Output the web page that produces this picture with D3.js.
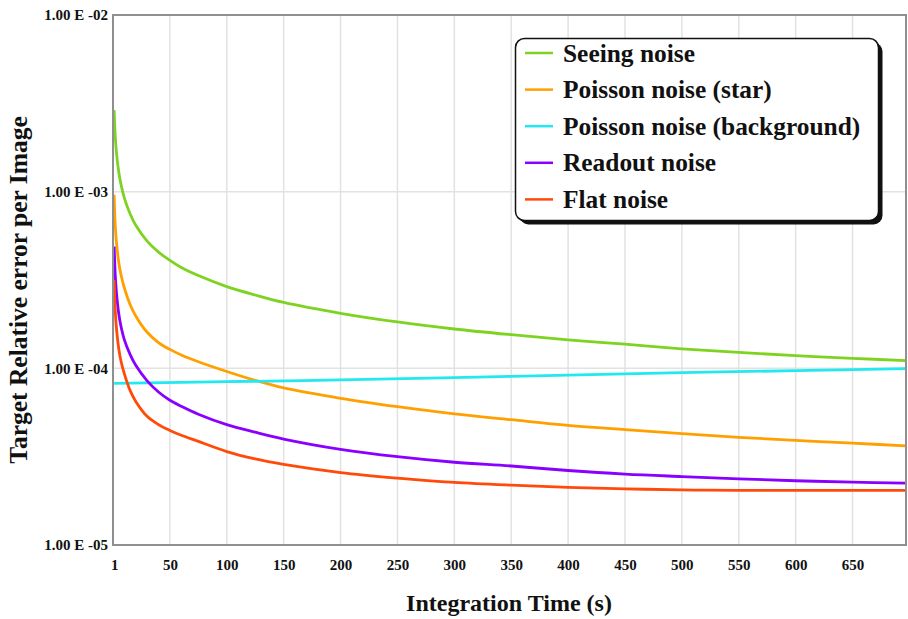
<!DOCTYPE html>
<html>
<head>
<meta charset="utf-8">
<script src="https://cdn.jsdelivr.net/npm/d3@7"></script>
<style>
  html, body { margin: 0; padding: 0; background: #fff; }
  svg { display: block; }
  .tick text { font-family: "Liberation Serif", "Times New Roman", serif; font-weight: bold; font-size: 15px; fill: #111; }
</style>
</head>
<body>
<svg id="chart" width="908" height="619"></svg>
<script>
// ---- data ----
const times = [1, 2, 3, 5, 7, 10, 15, 20, 30, 40, 50, 60, 75, 100, 125, 150, 200, 250, 300, 350, 400, 450, 500, 550, 600, 650, 697];
const seeingNoise = [2.9e-3, 2.05e-3, 1.68e-3, 1.3e-3, 1.1e-3, 9.2e-4, 7.5e-4, 6.45e-4, 5.25e-4, 4.55e-4, 4.08e-4, 3.72e-4, 3.35e-4, 2.9e-4, 2.6e-4, 2.36e-4, 2.05e-4, 1.83e-4, 1.67e-4, 1.55e-4, 1.45e-4, 1.37e-4, 1.29e-4, 1.23e-4, 1.18e-4, 1.14e-4, 1.105e-4];
const poissonStar = [9.6e-4, 6.4e-4, 5.2e-4, 4.0e-4, 3.4e-4, 2.85e-4, 2.3e-4, 1.98e-4, 1.6e-4, 1.4e-4, 1.28e-4, 1.19e-4, 1.09e-4, 9.6e-5, 8.55e-5, 7.75e-5, 6.77e-5, 6.07e-5, 5.52e-5, 5.12e-5, 4.76e-5, 4.5e-5, 4.27e-5, 4.07e-5, 3.91e-5, 3.77e-5, 3.64e-5];
const bgTimes = [1, 100, 200, 300, 400, 500, 600, 697];
const poissonBackground = [8.22e-5, 8.4e-5, 8.6e-5, 8.85e-5, 9.15e-5, 9.45e-5, 9.7e-5, 9.96e-5];
const readoutNoise = [4.89e-4, 3.35e-4, 2.7e-4, 2.05e-4, 1.73e-4, 1.45e-4, 1.2e-4, 1.04e-4, 8.5e-5, 7.35e-5, 6.6e-5, 6.1e-5, 5.5e-5, 4.8e-5, 4.35e-5, 3.98e-5, 3.48e-5, 3.16e-5, 2.94e-5, 2.8e-5, 2.64e-5, 2.52e-5, 2.44e-5, 2.37e-5, 2.31e-5, 2.27e-5, 2.24e-5];
const flatNoise = [3.16e-4, 2.1e-4, 1.7e-4, 1.3e-4, 1.1e-4, 9.3e-5, 7.5e-5, 6.5e-5, 5.35e-5, 4.8e-5, 4.45e-5, 4.18e-5, 3.86e-5, 3.38e-5, 3.07e-5, 2.86e-5, 2.57e-5, 2.39e-5, 2.26e-5, 2.18e-5, 2.12e-5, 2.08e-5, 2.05e-5, 2.04e-5, 2.04e-5, 2.04e-5, 2.04e-5];

const seriesNames = ["Seeing noise", "Poisson noise (star)", "Poisson noise (background)", "Readout noise", "Flat noise"];
const seriesColors = ["#7ed321", "#ffa000", "#22e8f0", "#8a00ff", "#ff4a0a"];

const xTickValues = [1, 50, 100, 150, 200, 250, 300, 350, 400, 450, 500, 550, 600, 650];
const xTickLabels = ["1", "50", "100", "150", "200", "250", "300", "350", "400", "450", "500", "550", "600", "650"];
const yTickValues = [1e-5, 1e-4, 1e-3, 1e-2];
const yTickLabels = ["1.00 E -05", "1.00 E -04", "1.00 E -03", "1.00 E -02"];

const xTitle = "Integration Time (s)";
const yTitle = "Target Relative error per Image";

// ---- layout ----
const svg = d3.select("#chart");
const L = 113, R = 906, T = 15, B = 545;
const serif = '"Liberation Serif", "Times New Roman", serif';

const x = d3.scaleLinear().domain([0, 697]).range([L, R]);
const y = d3.scaleLog().domain([1e-5, 1e-2]).range([B, T]);

// grid
const grid = svg.append("g");
grid.selectAll("line.v").data(xTickValues.slice(1)).join("line")
  .attr("x1", d => x(d)).attr("x2", d => x(d))
  .attr("y1", T).attr("y2", B)
  .attr("stroke", "#e2e2e2").attr("stroke-width", 1.5);
grid.selectAll("line.h").data(yTickValues.slice(1, 3)).join("line")
  .attr("x1", L).attr("x2", R)
  .attr("y1", d => y(d)).attr("y2", d => y(d))
  .attr("stroke", "#e2e2e2").attr("stroke-width", 1.5);

// axes (labels)
const xAxis = d3.axisBottom(x).tickValues(xTickValues)
  .tickFormat((d, i) => xTickLabels[i]).tickSize(0).tickPadding(0);
const gx = svg.append("g").attr("transform", `translate(0,${B})`).call(xAxis);
gx.select(".domain").remove();
gx.selectAll(".tick text").attr("dy", null).attr("y", 24.5);

const yAxis = d3.axisLeft(y).tickValues(yTickValues)
  .tickFormat((d, i) => yTickLabels[i]).tickSize(0).tickPadding(5);
const gy = svg.append("g").attr("transform", `translate(${L},0)`).call(yAxis);
gy.select(".domain").remove();

// curves
const line = d3.line().x(d => x(d[0])).y(d => y(d[1])).curve(d3.curveCatmullRom.alpha(0.5));
const seriesData = [
  d3.zip(times, seeingNoise),
  d3.zip(times, poissonStar),
  d3.zip(bgTimes, poissonBackground),
  d3.zip(times, readoutNoise),
  d3.zip(times, flatNoise)
];
svg.append("clipPath").attr("id", "plotclip").append("rect")
  .attr("x", L).attr("y", T).attr("width", R - L).attr("height", B - T);
svg.append("g").attr("clip-path", "url(#plotclip)")
  .selectAll("path").data(seriesData).join("path")
  .attr("d", line)
  .attr("fill", "none")
  .attr("stroke", (d, i) => seriesColors[i])
  .attr("stroke-width", 2.8)
  .attr("stroke-linejoin", "round");

// frame
svg.append("rect").attr("x", L).attr("y", T).attr("width", R - L).attr("height", B - T)
  .attr("fill", "none").attr("stroke", "#8f8f8f").attr("stroke-width", 2);

// axis titles
svg.append("text").attr("x", 509).attr("y", 611)
  .attr("text-anchor", "middle").attr("font-family", serif).attr("font-weight", "bold")
  .attr("font-size", 24).attr("fill", "#111").text(xTitle);
svg.append("text").attr("transform", "translate(27,290) rotate(-90)")
  .attr("text-anchor", "middle").attr("font-family", serif).attr("font-weight", "bold")
  .attr("font-size", 25.5).attr("fill", "#111").text(yTitle);

// legend
const lg = svg.append("g");
const lx = 515.5, ly = 38.5, lw = 363, lh = 182;
lg.append("rect").attr("x", lx + 4).attr("y", ly + 4).attr("width", lw).attr("height", lh)
  .attr("rx", 9).attr("fill", "#111");
lg.append("rect").attr("x", lx).attr("y", ly).attr("width", lw).attr("height", lh)
  .attr("rx", 9).attr("fill", "#fff").attr("stroke", "#111").attr("stroke-width", 1.5);
const rowY = i => 53 + i * 36.6;
lg.selectAll("line.lgl").data(seriesNames).join("line")
  .attr("x1", 525).attr("x2", 553)
  .attr("y1", (d, i) => rowY(i)).attr("y2", (d, i) => rowY(i))
  .attr("stroke", (d, i) => seriesColors[i]).attr("stroke-width", 2.5);
lg.selectAll("text").data(seriesNames).join("text")
  .attr("x", 563).attr("y", (d, i) => rowY(i) + 8.5)
  .attr("font-family", serif).attr("font-weight", "bold").attr("font-size", 25.4)
  .attr("fill", "#111").text(d => d);
</script>
</body>
</html>
